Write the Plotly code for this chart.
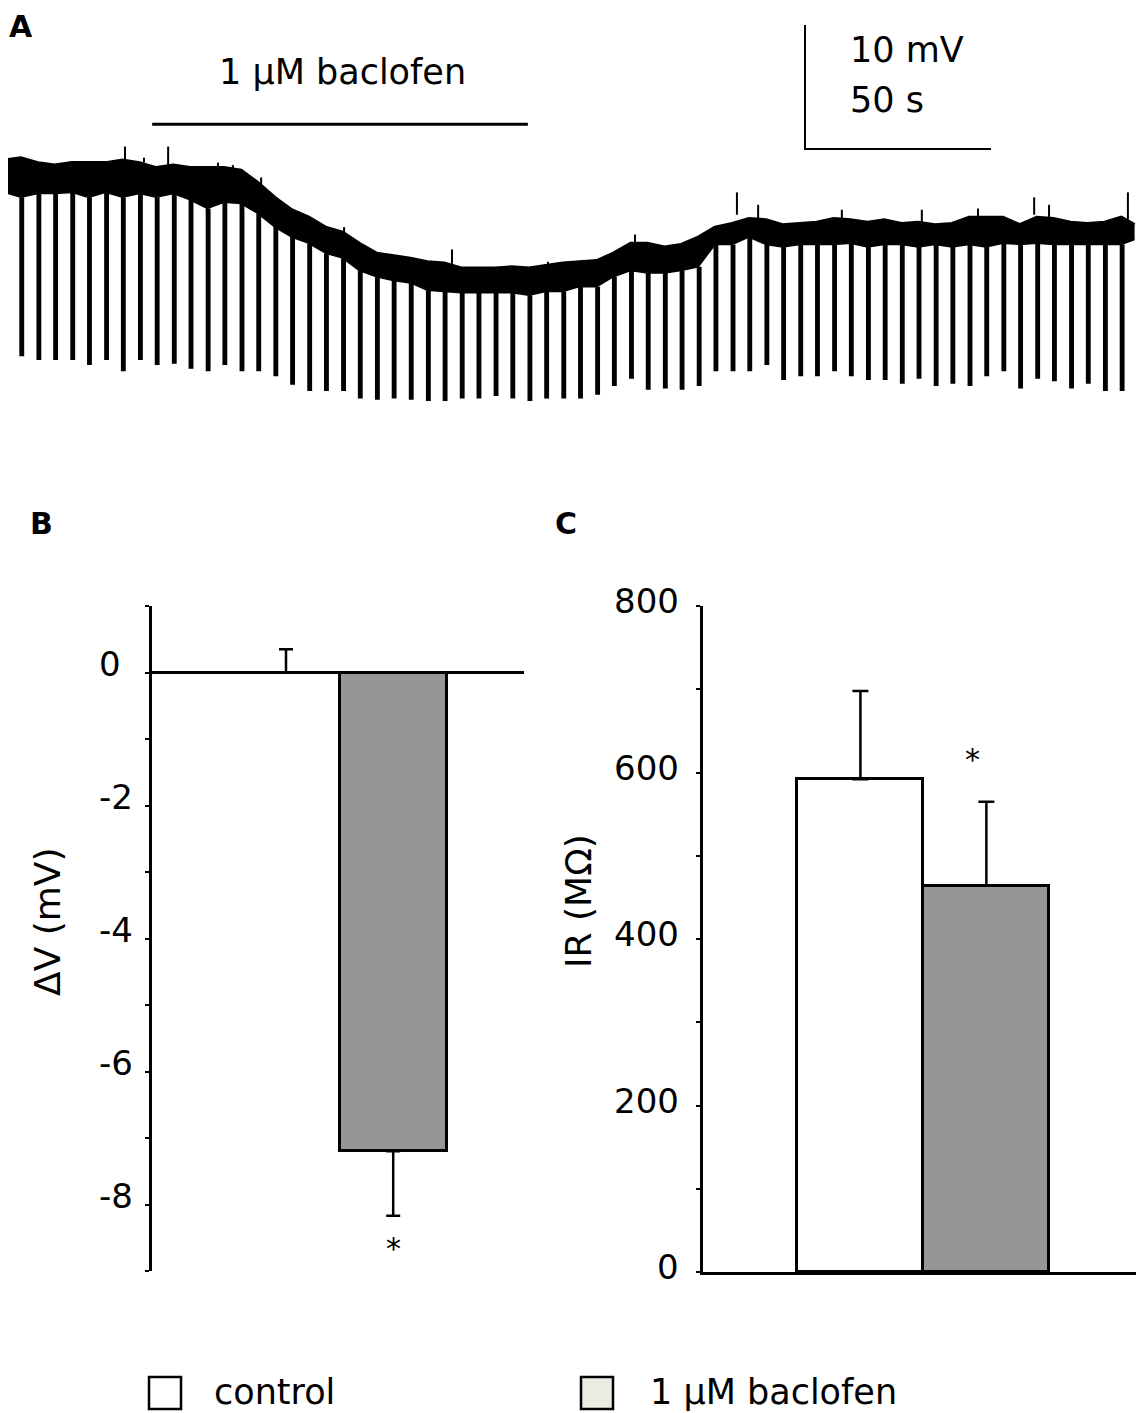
import plotly.graph_objects as go

W, H = 1144, 1413
OFF = 8  # page margin around the plot div
FONT = "DejaVu Sans"

# ---------------- panel A: current-clamp trace (mV, relative to start) ----------------
# hyperpolarizing pulse onsets (s)
pulse_times = [1.1, 5.6, 10.2, 14.7, 19.3, 23.8, 28.4, 32.9, 37.5, 42.0,
               46.6, 51.1, 55.7, 60.2, 64.8, 69.3, 73.9, 78.4, 83.0, 87.5,
               92.1, 96.6, 101.2, 105.7, 110.3, 114.9, 119.4, 124.0, 128.5, 133.1,
               137.6, 142.2, 146.7, 151.3, 155.8, 160.4, 164.9, 169.5, 174.0, 178.6,
               183.1, 187.7, 192.2, 196.8, 201.3, 205.9, 210.4, 215.0, 219.5, 224.1,
               228.6, 233.2, 237.7, 242.3, 246.8, 251.4, 255.9, 260.5, 265.0, 269.6,
               274.1, 278.7, 283.2, 287.8, 292.3, 296.9, 301.4]
# upper and lower edge of the noisy baseline at each pulse
band_top = [1.2, 1.4, 1.0, 0.8, 1.0, 1.0, 1.0, 1.2, 1.0, 0.6,
            0.8, 0.6, 0.6, 0.6, 0.4, -0.6, -1.8, -2.8, -3.4, -4.2,
            -4.6, -5.5, -6.3, -6.5, -6.7, -7.0, -7.1, -7.5, -7.5, -7.5,
            -7.4, -7.5, -7.3, -7.1, -7.0, -6.9, -6.3, -5.5, -5.5, -5.8,
            -5.6, -5.0, -4.2, -3.9, -3.5, -3.6, -4.0, -3.9, -3.8, -3.5,
            -3.6, -3.8, -3.6, -3.9, -3.8, -4.0, -3.9, -3.4, -3.4, -3.4,
            -4.0, -3.4, -3.5, -3.8, -3.9, -3.8, -3.4]
band_bottom = [-1.4, -1.8, -1.5, -1.5, -1.4, -1.8, -1.4, -1.8, -1.5, -1.8,
               -1.5, -2.0, -2.7, -2.2, -2.3, -3.1, -4.2, -5.0, -5.5, -6.3,
               -6.7, -7.7, -8.2, -8.5, -8.7, -9.3, -9.4, -9.5, -9.5, -9.5,
               -9.5, -9.7, -9.4, -9.4, -9.0, -9.0, -8.2, -7.7, -7.9, -7.9,
               -7.7, -7.4, -5.6, -5.6, -5.0, -5.6, -5.8, -5.6, -5.6, -5.6,
               -5.5, -5.8, -5.6, -5.6, -5.8, -5.6, -5.8, -5.6, -5.8, -5.5,
               -5.6, -5.5, -5.6, -5.6, -5.6, -5.6, -5.6]
# voltage reached at the end of each pulse
pulse_tips = [-12.1, -14.5, -14.8, -14.8, -14.8, -15.2, -14.8, -15.7, -14.8, -15.2,
              -15.1, -15.5, -15.7, -15.2, -15.7, -15.7, -16.1, -16.8, -17.3, -17.3,
              -17.3, -17.9, -18.0, -17.9, -18.0, -18.1, -18.1, -17.9, -17.9, -17.7,
              -17.9, -18.1, -17.9, -17.9, -17.9, -17.6, -16.9, -16.3, -17.2, -17.1,
              -17.2, -16.9, -15.7, -15.7, -15.7, -15.2, -16.4, -16.1, -16.1, -15.7,
              -16.1, -16.4, -16.4, -16.7, -16.3, -16.9, -16.7, -16.9, -16.1, -15.7,
              -17.1, -16.3, -16.5, -17.1, -16.7, -17.3, -17.3]
trace_end = (305.0, -4.0, -5.2)  # time, top, bottom
# noise spikes on top of the baseline
spike_times = [33.6, 38.7, 45.2, 58.6, 62.6, 70.2, 92.5, 121.5, 147.3, 170.7,
               198.1, 203.8, 226.3, 247.8, 262.9, 278.0, 282.0, 303.2]
spike_peaks = [2.3, 1.4, 2.3, 1.0, 0.8, -0.2, -4.2, -6.0, -7.0, -4.8,
               -1.4, -2.4, -2.8, -2.8, -2.7, -1.8, -2.4, -1.4]
spike_bases = [0.8, 1.0, 0.6, 0.5, 0.3, -0.9, -4.8, -7.2, -7.4, -5.5,
               -3.2, -3.6, -3.6, -3.9, -3.4, -3.2, -3.5, -3.6]

pulse_width = 0.5
baclofen_on, baclofen_off = 40.9, 141.9
scale_mv, scale_s = 10, 50

# ---------------- panels B and C ----------------
conditions = ["control", "1 µM baclofen"]
dv_mean = [0.0, -7.2]
dv_sem = [0.35, 0.97]
dv_ticks = [0, -2, -4, -6, -8]
ir_mean = [592, 464]
ir_sem = [106, 101]
ir_ticks = [0, 200, 400, 600, 800]
bar_colors = ["white", "#969696"]
legend_colors = ["white", "#ecebe1"]

Wf, Hf = W - OFF, H - OFF


def px(x):
    return (x - OFF) / Wf


def py(y):
    return 1 - (y - OFF) / Hf


fig = go.Figure()

# baseline band (lower edge, then upper edge filled down to it)
fig.add_trace(go.Scatter(x=pulse_times + [trace_end[0]], y=band_bottom + [trace_end[2]],
                         mode="lines", line=dict(color="black", width=1.5),
                         xaxis="x", yaxis="y", hoverinfo="skip"))
fig.add_trace(go.Scatter(x=pulse_times + [trace_end[0]], y=band_top + [trace_end[1]],
                         mode="lines", line=dict(color="black", width=3),
                         fill="tonexty", fillcolor="black",
                         xaxis="x", yaxis="y", hoverinfo="skip"))

# current pulses
px_list, py_list = [], []
for t, b, tip in zip(pulse_times, band_bottom, pulse_tips):
    px_list += [t, t, t + pulse_width, t + pulse_width, None]
    py_list += [b, tip, tip, b, None]
fig.add_trace(go.Scatter(x=px_list, y=py_list, mode="lines",
                         line=dict(color="black", width=3),
                         xaxis="x", yaxis="y", hoverinfo="skip"))

# spikes
sx, sy = [], []
for t, p, b in zip(spike_times, spike_peaks, spike_bases):
    sx += [t, t, None]
    sy += [b, p, None]
fig.add_trace(go.Scatter(x=sx, y=sy, mode="lines", line=dict(color="black", width=2),
                         xaxis="x", yaxis="y", hoverinfo="skip"))

# drug application bar
fig.add_trace(go.Scatter(x=[baclofen_on, baclofen_off], y=[4.1, 4.1], mode="lines",
                         line=dict(color="black", width=3),
                         xaxis="x", yaxis="y", hoverinfo="skip"))

# scale bar
sb_t, sb_v = 216.4, 2.1
fig.add_trace(go.Scatter(x=[sb_t, sb_t, sb_t + scale_s], y=[sb_v + scale_mv, sb_v, sb_v],
                         mode="lines", line=dict(color="black", width=2),
                         xaxis="x", yaxis="y", hoverinfo="skip"))

# panel B bars
fig.add_trace(go.Bar(x=[0, 1], y=dv_mean, width=1,
                     marker=dict(color=bar_colors, line=dict(color="black", width=3)),
                     error_y=dict(type="data", symmetric=False,
                                  array=[e if m >= 0 else 0 for m, e in zip(dv_mean, dv_sem)],
                                  arrayminus=[e if m < 0 else 0 for m, e in zip(dv_mean, dv_sem)],
                                  color="black", thickness=2.5, width=7),
                     xaxis="x2", yaxis="y2", hoverinfo="skip"))

# panel C bars
fig.add_trace(go.Bar(x=[0, 1], y=ir_mean, width=1,
                     marker=dict(color=bar_colors, line=dict(color="black", width=3)),
                     error_y=dict(type="data", symmetric=False, array=ir_sem,
                                  arrayminus=[0, 0],
                                  color="black", thickness=2.5, width=8),
                     xaxis="x3", yaxis="y3", hoverinfo="skip"))

annotations = []


def text(x, y, s, size=35, xanchor="left", yanchor="middle", **kw):
    annotations.append(dict(x=x, y=y, text=s, showarrow=False, xanchor=xanchor,
                            yanchor=yanchor,
                            font=dict(family=FONT, size=size, color="black"), **kw))


# panel letters
text(px(21), py(8.5), "<b>A</b>", size=30, xanchor="center", yanchor="top",
     borderpad=0, xref="paper", yref="paper")
text(px(41), py(523), "<b>B</b>", size=30, xanchor="center", xref="paper", yref="paper")
text(px(566), py(523), "<b>C</b>", size=30, xanchor="center", xref="paper", yref="paper")

# panel A labels
text(px(342), py(72), "1 µM baclofen", xanchor="center", xref="paper", yref="paper")
text(px(848), py(50), f"{scale_mv} mV", xref="paper", yref="paper")
text(px(848), py(100), f"{scale_s} s", xref="paper", yref="paper")

# B tick labels and title
for v in dv_ticks:
    text(px(97), v, str(v), size=34, xref="paper", yref="y2", yshift=9)
text(px(47), py(922), "ΔV (mV)", size=36, xanchor="center", xref="paper", yref="paper",
     textangle=-90)
text(1, -8.62, "*", size=30, xanchor="center", xref="x2", yref="y2", yshift=-3)

# C tick labels and title
for v in ir_ticks:
    text(px(681), v, str(v), size=34, xanchor="right", xref="paper", yref="y3", yshift=5)
text(px(578), py(901), "IR (MΩ)", size=36, xanchor="center", xref="paper", yref="paper",
     textangle=-90)
text(0.89, 619, "*", size=30, xanchor="center", xref="x3", yref="y3", yshift=-3)

# legend
shapes = []
for (x0, tx), name, col in zip([(149, 212), (581, 648)], conditions, legend_colors):
    shapes.append(dict(type="rect", xref="paper", yref="paper",
                       x0=px(x0), x1=px(x0 + 32), y0=py(1409), y1=py(1377),
                       line=dict(color="black", width=2.5), fillcolor=col))
    text(px(tx), py(1392), name, xref="paper", yref="paper")

fig.update_layout(
    width=Wf, height=Hf,
    margin=dict(l=0, r=0, t=0, b=0),
    paper_bgcolor="white", plot_bgcolor="rgba(0,0,0,0)",
    showlegend=False,
    bargap=0,
    xaxis=dict(domain=[0, 1], range=[OFF / 3.72, W / 3.72], visible=False),
    yaxis=dict(domain=[py(430), 1], range=[-20.56, (175 - OFF) / 12.4], visible=False),
    xaxis2=dict(domain=[px(152), px(524)], range=[-1.25, 2.22], visible=False, anchor="y2"),
    yaxis2=dict(domain=[py(1271), py(606)], range=[-9, 1], anchor="x2",
                showline=True, linecolor="black", linewidth=3,
                zeroline=True, zerolinecolor="black", zerolinewidth=3,
                showgrid=False, ticks="outside", ticklen=4, tickwidth=2, tickcolor="black",
                tickvals=list(range(-9, 2)), showticklabels=False),
    xaxis3=dict(domain=[px(703), px(1140)], range=[-1.25, 2.22], anchor="y3",
                showline=True, linecolor="black", linewidth=3,
                showgrid=False, zeroline=False, ticks="", showticklabels=False),
    yaxis3=dict(domain=[py(1272), py(606)], range=[0, 800], anchor="x3",
                showline=True, linecolor="black", linewidth=3,
                showgrid=False, zeroline=False, ticks="outside", ticklen=4, tickwidth=2,
                tickcolor="black", tickvals=list(range(0, 801, 100)), showticklabels=False),
    annotations=annotations,
    shapes=shapes,
)

fig.write_html("out.html")
